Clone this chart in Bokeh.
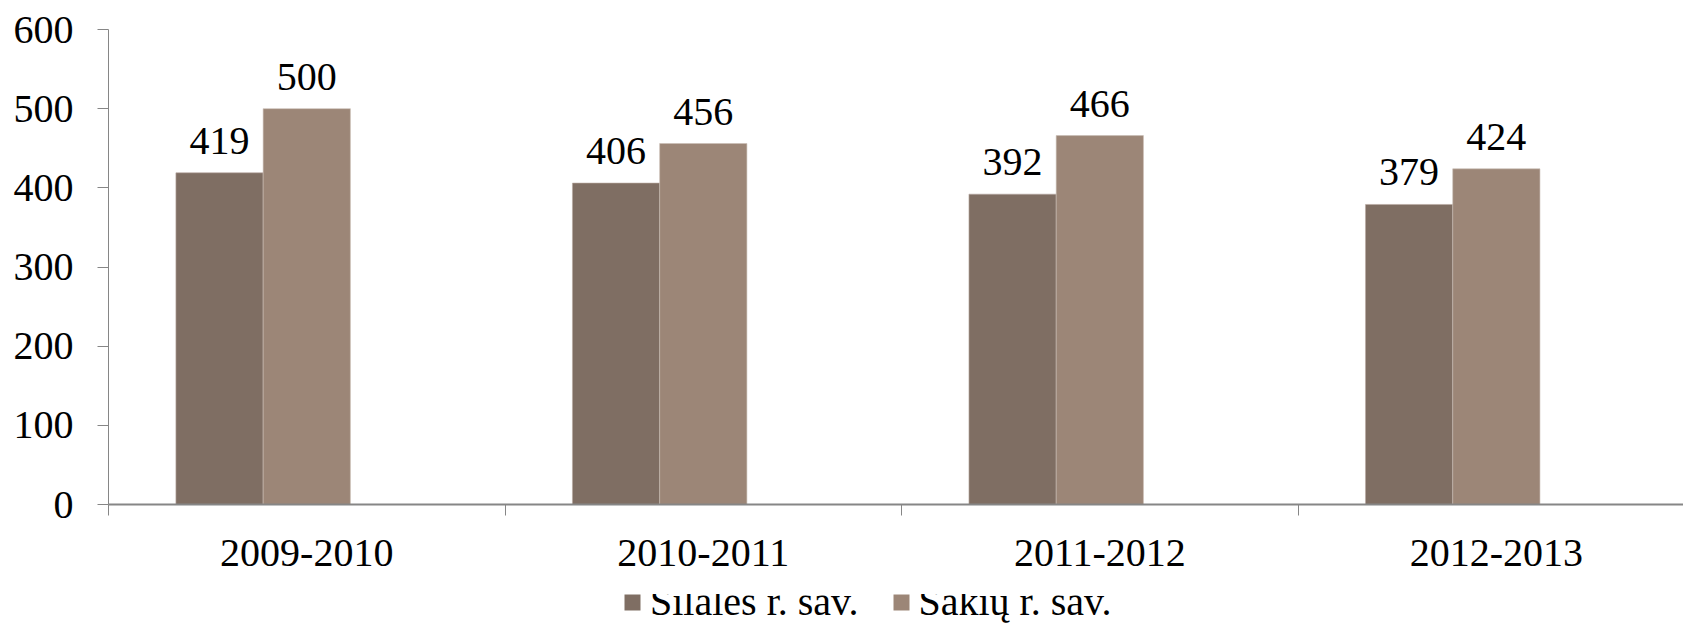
from bokeh.plotting import figure
from bokeh.layouts import column
from bokeh.models import Range1d, FixedTicker, ColumnDataSource, LabelSet, Legend, LegendItem
from bokeh.embed import file_html
from bokeh.resources import INLINE

categories = ["2009-2010", "2010-2011", "2011-2012", "2012-2013"]
series_names = ["Šilalės r. sav.", "Šakių r. sav."]
silale = [419, 406, 392, 379]
sakiai = [500, 456, 466, 424]
y_ticks = [0, 100, 200, 300, 400, 500, 600]

FONT = "Liberation Serif"
FS = "40px"
C1 = "#7f6e63"
C2 = "#9c8677"
BW = 0.22

n = len(categories)
x1 = [i + 0.5 - BW for i in range(n)]
x2 = [i + 0.5 for i in range(n)]

src1 = ColumnDataSource(dict(x=x1, top=silale, lab=[str(v) for v in silale]))
src2 = ColumnDataSource(dict(x=x2, top=sakiai, lab=[str(v) for v in sakiai]))

p = figure(frame_width=1575, frame_height=475, output_backend="svg", toolbar_location=None,
           x_range=Range1d(0, 3.972), y_range=Range1d(0, 600),
           min_border_left=108, min_border_right=0, min_border_top=29, min_border_bottom=90)
p.outline_line_color = None
p.xgrid.visible = False
p.ygrid.visible = False
p.background_fill_color = "white"
p.border_fill_color = "white"

p.vbar(x="x", top="top", width=BW, bottom=0, source=src1, fill_color=C1,
       line_color="#b8aaa1", line_width=0.6)
p.vbar(x="x", top="top", width=BW, bottom=0, source=src2, fill_color=C2,
       line_color="#c9bdb5", line_width=0.6)

for src in (src1, src2):
    lab = LabelSet(x="x", y="top", text="lab", source=src, y_offset=19,
                   text_align="center", text_baseline="alphabetic",
                   text_font=FONT, text_font_size=FS, text_color="black")
    p.add_layout(lab)

xa = p.xaxis[0]
xa.ticker = FixedTicker(ticks=[i + 0.5 for i in range(n)], minor_ticks=list(range(n + 1)))
xa.major_label_overrides = {i + 0.5: c for i, c in enumerate(categories)}
xa.major_tick_line_color = None
xa.major_tick_out = 11
xa.major_tick_in = 0
xa.minor_tick_line_color = "#868686"
xa.minor_tick_out = 11
xa.minor_tick_in = 0
xa.axis_line_color = "#868686"
xa.axis_line_width = 2
xa.major_label_standoff = 24
xa.major_label_text_font = FONT
xa.major_label_text_font_size = FS
xa.major_label_text_color = "black"

ya = p.yaxis[0]
ya.ticker = FixedTicker(ticks=y_ticks)
ya.minor_tick_line_color = None
ya.major_tick_out = 11
ya.major_tick_in = 0
ya.major_tick_line_color = "#868686"
ya.axis_line_color = "#868686"
ya.major_label_standoff = 24
ya.major_label_text_font = FONT
ya.major_label_text_font_size = FS
ya.major_label_text_color = "black"

# legend strip below the chart (same series, drawn outside its visible y range)
p2 = figure(width=1683, height=41, output_backend="svg", toolbar_location=None,
            x_range=Range1d(0, 3.972), y_range=Range1d(1000, 1001),
            x_axis_location=None, y_axis_location=None,
            min_border_left=0, min_border_right=0, min_border_top=0, min_border_bottom=0)
p2.outline_line_color = None
p2.xgrid.visible = False
p2.ygrid.visible = False
p2.border_fill_color = "white"
e1 = p2.vbar(x="x", top="top", width=BW, bottom=0, source=src1, fill_color=C1, line_color=None)
e2 = p2.vbar(x="x", top="top", width=BW, bottom=0, source=src2, fill_color=C2, line_color=None)

legend = Legend(items=[LegendItem(label=series_names[0], renderers=[e1]),
                       LegendItem(label=series_names[1], renderers=[e2])],
                orientation="horizontal", location=(514, 10),
                border_line_color=None, background_fill_alpha=0,
                glyph_width=20, glyph_height=20, label_standoff=8, spacing=32,
                margin=0, padding=0,
                label_text_font=FONT, label_text_font_size=FS, label_text_color="black")
p2.add_layout(legend, "center")

open("out.html", "w").write(file_html(column(p, p2, spacing=0), INLINE))
